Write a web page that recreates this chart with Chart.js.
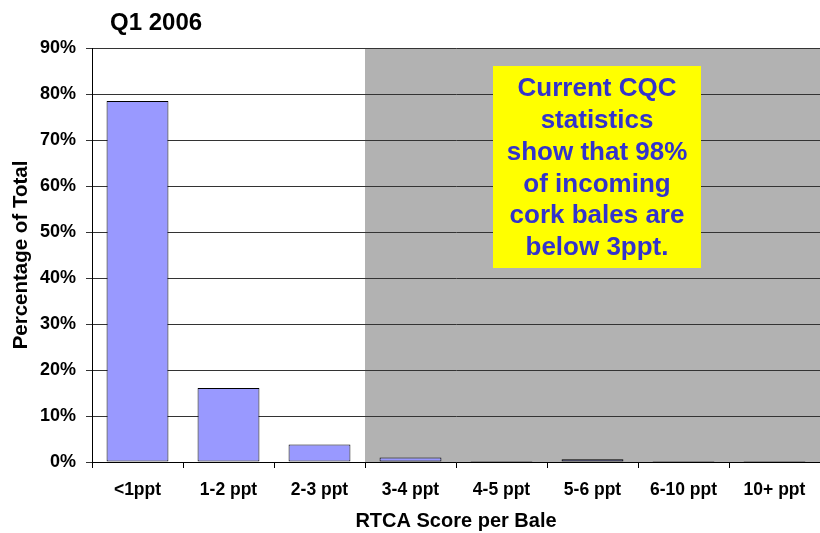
<!DOCTYPE html>
<html>
<head>
<meta charset="utf-8">
<script src="https://cdn.jsdelivr.net/npm/chart.js@4/dist/chart.umd.min.js"></script>
<style>
  html, body { margin: 0; padding: 0; background: #fff; }
  .chartContainer { width: 820px; height: 533px; }
</style>
</head>
<body>
<div class="chartContainer"><canvas id="chart"></canvas></div>
<script>
const categories = ['<1ppt', '1-2 ppt', '2-3 ppt', '3-4 ppt', '4-5 ppt', '5-6 ppt', '6-10 ppt', '10+ ppt'];
const percentOfTotal = [78.5, 16.1, 3.8, 1.0, 0.2, 0.6, 0.2, 0.2];
const yTicks = [0, 10, 20, 30, 40, 50, 60, 70, 80, 90];
const noteLines = ['Current CQC', 'statistics', 'show that 98%', 'of incoming', 'cork bales are', 'below 3ppt.'];
const titleText = 'Q1 2006';

const FONT = '"Liberation Sans", Arial, sans-serif';

// grey shading over the categories above 3 ppt, drawn behind grid and bars
const shadePlugin = {
  id: 'shade',
  beforeDraw(chart) {
    const { ctx, chartArea, scales } = chart;
    const x = scales.x;
    const half = (x.getPixelForValue(1) - x.getPixelForValue(0)) / 2;
    const left = x.getPixelForValue(3) - half;
    ctx.save();
    ctx.fillStyle = '#b2b2b2';
    ctx.fillRect(left, chartArea.top, chartArea.right - left, chartArea.bottom - chartArea.top);
    ctx.restore();
  }
};

// yellow note box + chart title
const notePlugin = {
  id: 'note',
  afterDraw(chart) {
    const { ctx, chartArea } = chart;
    const bx = chartArea.left + 401, by = chartArea.top + 18, bw = 208, bh = 202;
    ctx.save();
    ctx.fillStyle = '#ffff00';
    ctx.fillRect(bx, by, bw, bh);
    ctx.fillStyle = '#3333cc';
    ctx.font = 'bold 26px ' + FONT;
    ctx.textAlign = 'center';
    ctx.textBaseline = 'middle';
    noteLines.forEach((line, i) => {
      ctx.fillText(line, bx + bw / 2, by + 23 + i * 31.8);
    });
    ctx.fillStyle = '#000';
    ctx.font = 'bold 24px ' + FONT;
    ctx.textAlign = 'left';
    ctx.fillText(titleText, 110, 23);
    ctx.restore();
  }
};

new Chart(document.getElementById('chart'), {
  type: 'bar',
  data: {
    labels: categories,
    datasets: [{
      data: percentOfTotal,
      backgroundColor: '#9999ff',
      borderColor: '#000',
      borderWidth: 1,
      borderSkipped: false,
      categoryPercentage: 1,
      barPercentage: 0.68,
    }],
  },
  options: {
    responsive: true,
    maintainAspectRatio: false,
    animation: false,
    layout: { padding: { top: 48, right: 0, left: 9, bottom: 0 } },
    plugins: {
      legend: { display: false },
      tooltip: { enabled: false },
    },
    scales: {
      x: {
        offset: true,
        afterFit(scale) { scale.height = 71; },
        grid: { offset: true, drawOnChartArea: false, tickLength: 6, color: '#000' },
        border: { color: '#000', width: 1 },
        ticks: { color: '#000', padding: 12, font: { family: FONT, size: 17.5, weight: 'bold' }, maxRotation: 0 },
        title: { display: true, text: 'RTCA Score per Bale', color: '#000', padding: { top: 0, bottom: 0 }, font: { family: FONT, size: 20, weight: 'bold' } },
      },
      y: {
        min: 0,
        max: 90,
        afterFit(scale) { scale.width = 83; },
        afterBuildTicks(axis) { axis.ticks = yTicks.map(v => ({ value: v })); },
        grid: { color: '#333', tickLength: 6 },
        border: { color: '#000', width: 1 },
        ticks: { color: '#000', padding: 10, font: { family: FONT, size: 18, weight: 'bold' }, callback: v => v + '%' },
        title: { display: true, text: 'Percentage of Total', color: '#000', padding: { top: 0, bottom: 0 }, font: { family: FONT, size: 20.5, weight: 'bold' } },
      },
    },
  },
  plugins: [shadePlugin, notePlugin],
});
</script>
</body>
</html>
